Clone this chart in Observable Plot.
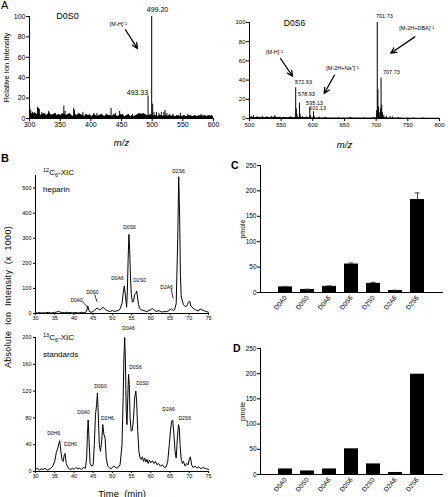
<!DOCTYPE html>
<html><head><meta charset="utf-8">
<script src="https://cdn.jsdelivr.net/npm/d3@7"></script>
<script src="https://cdn.jsdelivr.net/npm/@observablehq/plot@0.6"></script>
<style>
body{margin:0;background:#fff;}
#fig{position:relative;width:448px;height:497px;font-family:Arial,"Liberation Sans",Helvetica,sans-serif;color:#000;overflow:hidden;background:#fff;}
.pane{position:absolute;}
.pane svg{overflow:visible;display:block;}
.lbl{position:absolute;white-space:nowrap;line-height:1;}
.sup{position:relative;top:-3px;font-size:5.5px;}
.sub{position:relative;top:2px;font-size:5.5px;}
.pa g[aria-label="x-axis label"] text{font-size:9.5px;font-style:italic;}
.pa g[aria-label="y-axis label"] text{font-size:7.5px;}
.pb g[aria-label="x-axis label"] text{font-size:9.5px;}
.pc g[aria-label="y-axis label"] text{font-size:7px;}
</style></head><body><div id="fig"></div>
<script>
// ---------- Panel A data ----------
const mzTicksL = [300,350,400,450,500,550,600];
const mzTicksR = [500,550,600,650,700,750,800];
const relTicks = [0,20,40,60,80,100];
// baseline noise, D0S0 spectrum, one value every 3 m/z from 300
const baseL = [7,5,4,6,4,5,3,4,5,3, 4,6,3,4,5,3,4,3,5,4, 3,4,5,3,2,4,3,5,4,3, 2,4,3,3,2,4,3,2,3,4, 3,2,4,3,3,2,4,3,2,3, 4,3,2,3,4,2,3,2,3,4, 5,4,5,4,3,3,4,2,3,3, 2,3,3,2,3,2,3,2,3,2, 2,3,2,2,3,2,2,3,2,2, 3,2,2,3,2,3,2,2,3,2, 2];
const stickMzL  = [300.5,302,305,309,313,314.5,316,320,325,331,337,342,348,356,358,365,372,373.5,380,387,392,398,405,410,418,425,433,440,447,452,461,468,476,483,487,493.33,499.2,500.8,503,507,511,515,519,521,524,529,534,540,546,552,558,563,569,575,580,586,591,597];
const stickIntL = [10,8,6,5,11,10,9,6,5,7,4,5,4,12,7,4,10,8,4,6,4,4,5,5,4,4,10,5,7,4,4,4,4,4,3,22,100,14,6,6,5,6,6,8,5,4,4,3,5,3,4,3,3,3,4,3,3,3];
// baseline noise, D0S6 spectrum, one value every 5 m/z from 500
const baseR = [1.5,1,1,1.2,0.8,1,1.2,0.8,1.5,1, 0.8,1,0.8,1.2,0.8,1,1.2,0.8,1,0.7, 0.8,0.6,0.8,0.5,0.7,0.5,0.6,0.5,0.6,0.4, 0.5,0.4,0.8,0.5,0.4,0.6,0.4,0.5,0.4,0.5, 0.8,1,0.6,0.8,0.6,0.5,0.4,0.5,0.4,0.3, 0.4,0.3,0.4,0.3,0.3,0.4,0.3,0.3,0.3,0.3, 0.3];
const stickMzR  = [503,506,512,520,527,535,540,548,556,565,572.93,573.9,575,578.93,580,584,590,595.13,596.2,601.13,602.2,610,620,640,660,680,695,700.73,701.73,702.73,703.73,705.7,706.73,707.73,708.73,710,712,716,722,726,735];
const stickIntR = [2,3,1.5,2,1.5,2,3,1.5,1,1.5,32,10,4,16,4,2,1.5,11,3,7,2,1.5,1,0.8,0.8,0.8,1,8,100,30,12,6,10,42,14,6,3,2,2,1.5,1];
const peakTextL = ["499.20","493.33"];
const peakTextMzL = [508.7,476];
const peakTextVL = [107,25.5];
const peakTextR = ["572.93","578.93","595.13","601.13","701.73","707.73"];
const peakTextMzR = [585.3,590,602.6,607.4,713,724];
const peakTextVR = [37.5,25,15.6,10.4,107,48];
const ionTextL = ["[M-H]⁻¹"], ionMzL = [445], ionVL = [92];
const ionArrowL = [[456.5,87,476,68.6]];
const ionTextR = ["[M-H]⁻¹","[M-2H+Na⁺]⁻¹","[M-2H+DBA]⁻¹"];
const ionMzR = [539.5,647,764], ionVR = [69,52,94];
const ionArrowR = [[549,62.5,568,44],[634,45,618,26],[761,85,723,68]];

// ---------- Panel B data ----------
const timeTicks = [30,35,40,45,50,55,60,65,70,75];
const ticks12 = [0,100,200,300,400,500];
const ticks13 = [0,40,80,120,160,200];
const xic12 = [[30,3],[30.5,2],[31,4],[31.5,2],[32,3],[32.5,2],[33,4],[33.5,3],[34,2],[34.5,3],[35,4],[35.5,6],[36,8],[36.5,5],[37,4],[37.5,3],[38,5],[38.5,3],[39,4],[39.5,2],[40,3],[40.5,4],[41,2],[41.5,3],[42,5],[42.5,3],[43,4],[43.3,10],[43.6,30],[43.9,12],[44.2,6],[44.6,5],[45,8],[45.5,15],[46,22],[46.4,18],[46.8,14],[47.2,20],[47.6,25],[48,18],[48.5,12],[49,10],[49.5,8],[50,12],[50.5,8],[51,10],[51.5,12],[52,18],[52.5,40],[52.8,80],[53.1,110],[53.4,70],[53.7,25],[53.9,90],[54.1,220],[54.3,315],[54.5,250],[54.7,150],[54.9,80],[55.2,45],[55.5,50],[55.8,75],[56.1,80],[56.3,90],[56.5,70],[56.8,35],[57.1,20],[57.5,15],[58,12],[58.5,10],[59,8],[59.5,12],[60,15],[60.4,20],[60.8,15],[61.2,10],[61.6,8],[62,12],[62.5,8],[63,6],[63.5,8],[64,7],[64.5,10],[65,15],[65.4,18],[65.8,12],[66.2,15],[66.6,40],[67,300],[67.25,545],[67.5,380],[67.7,150],[67.9,70],[68.2,50],[68.5,35],[68.8,30],[69.2,28],[69.5,35],[69.8,45],[70.1,50],[70.4,30],[70.8,25],[71.2,18],[71.6,15],[72,12],[72.4,10],[72.8,18],[73.2,15],[73.6,12],[74,10],[74.5,8],[75,5]];
const xic13 = [[30,3],[30.5,5],[31,2],[31.5,4],[32,3],[32.5,5],[33,2],[33.5,3],[34,5],[34.5,8],[35,15],[35.4,28],[35.8,35],[36.1,42],[36.3,46],[36.6,30],[36.9,18],[37.2,15],[37.5,25],[37.7,27],[38,12],[38.4,6],[38.8,4],[39.2,3],[39.6,5],[40,3],[40.5,6],[41,4],[41.5,5],[42,3],[42.5,6],[43,5],[43.3,20],[43.5,55],[43.7,77],[43.9,50],[44.2,12],[44.6,8],[45,10],[45.3,40],[45.6,85],[45.9,100],[46.1,117],[46.3,90],[46.6,40],[46.9,30],[47.2,45],[47.5,70],[47.8,55],[48.1,50],[48.4,20],[48.8,8],[49.2,6],[49.6,4],[50,6],[50.5,8],[51,5],[51.5,6],[52,10],[52.5,40],[52.8,110],[53,170],[53.2,200],[53.4,160],[53.6,90],[53.8,70],[54,110],[54.2,145],[54.4,130],[54.6,80],[54.9,60],[55.2,62],[55.5,80],[55.8,110],[56.1,120],[56.3,105],[56.6,60],[56.9,30],[57.2,20],[57.5,18],[57.8,22],[58.1,15],[58.4,20],[58.7,14],[59,18],[59.3,12],[59.6,17],[60,13],[60.4,16],[60.8,12],[61.2,15],[61.6,10],[62,12],[62.5,8],[63,10],[63.5,6],[64,7],[64.4,15],[64.8,40],[65.1,60],[65.4,75],[65.7,77],[66,55],[66.3,30],[66.6,20],[66.9,50],[67.2,70],[67.4,65],[67.6,40],[67.9,18],[68.2,12],[68.5,15],[68.9,8],[69.3,12],[69.7,10],[70,18],[70.3,22],[70.6,10],[71,6],[71.5,8],[72,5],[72.5,7],[73,4],[73.5,6],[74,5],[74.5,4],[75,3]];
const names12 = ["D2S6","D0S6","D0A6","D2S0","D2A6","D0S0","D0A0"];
const labT12 = [67.2,54.45,51.3,57.05,64.1,44.8,40.7];
const labV12 = [565,343,141,130,103,84,53];
const leaders12 = [[42.2,47,43.5,26],[45.4,75,46.0,47],[65.3,97,65.8,60]];
const names13 = ["D0H6","D2H0","D0A0","D0S0","D2H6","D0A6","D0S6","D2S0","D2A6","D2S6"];
const labT13 = [34.7,39.1,42.5,46.9,48.7,54.2,56.0,57.8,64.6,68.8];
const labV13 = [56.7,40,88,127,79,213,155,131,92.5,79];

// ---------- Panels C, D data ----------
const cats = ["D0A0","D0S0","D0A6","D0S6","D2S0","D2A6","D2S6"];
const pmolC = [11,6,12,56,18,4,183];
const errC  = [1,0.5,1,2,2,0.5,13];
const pmolD = [11,7,11,51,21,4,199];
const pmolTicks = [0,50,100,150,200,250];

// ---------- helpers ----------
const FONT = "Arial, 'Liberation Sans', Helvetica, sans-serif";
const fig = document.getElementById("fig");
const st = (fs) => ({fontFamily: FONT, fontSize: fs + "px", background: "transparent", overflow: "visible", color: "#000"});
function place(node, left, top, cls) {
  const d = document.createElement("div");
  d.className = "pane " + (cls || "");
  d.style.left = left + "px"; d.style.top = top + "px";
  d.appendChild(node); fig.appendChild(d);
}
function html(text, left, top, css) {
  const d = document.createElement("div");
  d.className = "lbl"; d.innerHTML = text;
  d.style.left = left + "px"; d.style.top = top + "px";
  if (css) d.style.cssText += css;
  fig.appendChild(d);
}
const arrows = (a) => a.map(([x1,y1,x2,y2]) => ({x1,y1,x2,y2}));

// ---------- Panel A left ----------
const baseDataL = baseL.map((v,i) => ({mz: 300 + i*3, v}));
const sticksL = stickMzL.map((mz,i) => ({mz, v: stickIntL[i]}));
place(Plot.plot({
  width: 224, height: 150, marginLeft: 29, marginRight: 11, marginTop: 16, marginBottom: 32,
  style: st(7),
  x: {domain: [300,600]}, y: {domain: [0,100]},
  marks: [
    Plot.areaY(baseDataL, {x: "mz", y: "v", fill: "#000"}),
    Plot.ruleX(sticksL, {x: "mz", y1: 0, y2: "v", stroke: "#000", strokeWidth: 1}),
    Plot.ruleX([300], {y1: 0, y2: 100, stroke: "#000"}),
    Plot.ruleY([0], {stroke: "#000"}),
    Plot.axisX({ticks: mzTicksL, tickSize: 3, tickPadding: 1, label: "m/z", labelAnchor: "center", labelOffset: 27, labelArrow: "none"}),
    Plot.axisY({ticks: relTicks, tickSize: 3, tickPadding: 1, label: "Relative Ion Intensity", labelAnchor: "center", labelOffset: 26, labelArrow: "none"}),
    Plot.text(["D0S0"], {x: 362, y: 100, text: d => d, fontSize: 9}),
    Plot.text(peakTextL, {x: (d,i) => peakTextMzL[i], y: (d,i) => peakTextVL[i], text: d => d, fontSize: 7}),
    Plot.text(ionTextL, {x: (d,i) => ionMzL[i], y: (d,i) => ionVL[i], text: d => d, fontSize: 5.5}),
    Plot.arrow(arrows(ionArrowL), {x1: "x1", y1: "y1", x2: "x2", y2: "y2", stroke: "#000", strokeWidth: 1.3, headLength: 7, headAngle: 50})
  ]
}), 0, 0, "pa");

// ---------- Panel A right ----------
const baseDataR = baseR.map((v,i) => ({mz: 500 + i*5, v}));
const sticksR = stickMzR.map((mz,i) => ({mz, v: stickIntR[i]}));
place(Plot.plot({
  width: 224, height: 150, marginLeft: 25, marginRight: 9, marginTop: 22, marginBottom: 32,
  style: st(6),
  x: {domain: [500,800]}, y: {domain: [0,100]},
  marks: [
    Plot.areaY(baseDataR, {x: "mz", y: "v", fill: "#000"}),
    Plot.ruleX(sticksR, {x: "mz", y1: 0, y2: "v", stroke: "#000", strokeWidth: 1}),
    Plot.ruleX([500], {y1: 0, y2: 100, stroke: "#000"}),
    Plot.ruleY([0], {stroke: "#000"}),
    Plot.axisX({ticks: mzTicksR, tickSize: 3, tickPadding: 1, label: "m/z", labelAnchor: "center", labelOffset: 29, labelArrow: "none"}),
    Plot.axisY({ticks: relTicks, tickSize: 3, tickPadding: 1, label: null}),
    Plot.text(["D0S6"], {x: 571, y: 99, text: d => d, fontSize: 8.5}),
    Plot.text(peakTextR, {x: (d,i) => peakTextMzR[i], y: (d,i) => peakTextVR[i], text: d => d, fontSize: 5.5}),
    Plot.text(ionTextR, {x: (d,i) => ionMzR[i], y: (d,i) => ionVR[i], text: d => d, fontSize: 5.5}),
    Plot.arrow(arrows(ionArrowR), {x1: "x1", y1: "y1", x2: "x2", y2: "y2", stroke: "#000", strokeWidth: 1.3, headLength: 7, headAngle: 50})
  ]
}), 224, 0, "pa");

// ---------- Panel B top (12C6-XIC heparin) ----------
const d12 = xic12.map(([t,v]) => ({t, v}));
const l12 = names12.map((n,i) => ({n, t: labT12[i], v: labV12[i]}));
place(Plot.plot({
  width: 224, height: 174, marginLeft: 35, marginRight: 16, marginTop: 15, marginBottom: 21,
  style: st(5.5),
  x: {domain: [30,75]}, y: {domain: [0,550]},
  marks: [
    Plot.ruleX([30], {y1: 0, y2: 550, stroke: "#000"}),
    Plot.ruleY([0], {stroke: "#000"}),
    Plot.line(d12, {x: "t", y: "v", stroke: "#000", strokeWidth: 1}),
    Plot.axisX({ticks: timeTicks, tickSize: 2, tickPadding: 1, label: null}),
    Plot.axisY({ticks: ticks12, tickSize: 2, tickPadding: 2, label: null}),
    Plot.text(l12, {x: "t", y: "v", text: "n", fontSize: 5}),
    Plot.link(arrows(leaders12), {x1: "x1", y1: "y1", x2: "x2", y2: "y2", stroke: "#000", strokeWidth: 0.8})
  ]
}), 0, 160, "pb");

// ---------- Panel B bottom (13C6-XIC standards) ----------
const d13 = xic13.map(([t,v]) => ({t, v}));
const l13 = names13.map((n,i) => ({n, t: labT13[i], v: labV13[i]}));
place(Plot.plot({
  width: 224, height: 167, marginLeft: 35, marginRight: 16, marginTop: 7, marginBottom: 26,
  style: st(5.5),
  x: {domain: [30,75]}, y: {domain: [0,200]},
  marks: [
    Plot.ruleX([30], {y1: 0, y2: 200, stroke: "#000"}),
    Plot.ruleY([0], {stroke: "#000"}),
    Plot.line(d13, {x: "t", y: "v", stroke: "#000", strokeWidth: 1}),
    Plot.axisX({ticks: timeTicks, tickSize: 2, tickPadding: 1, label: "Time  (min)", labelAnchor: "center", labelOffset: 25, labelArrow: "none"}),
    Plot.axisY({ticks: ticks13, tickSize: 2, tickPadding: 2, label: null}),
    Plot.text(l13, {x: "t", y: "v", text: "n", fontSize: 5})
  ]
}), 0, 330, "pb");

// ---------- Panels C and D ----------
function barPanel(vals, errs, height, mt, mb) {
  const data = cats.map((c,i) => ({c, v: vals[i], e: errs ? errs[i] : 0}));
  const marks = [
    Plot.barY(data, {x: "c", y: "v", fill: "#000"}),
    Plot.frame({anchor: "left", stroke: "#000"}),
    Plot.frame({anchor: "bottom", stroke: "#000"}),
    Plot.axisX({tickRotate: -50, tickSize: 0, tickPadding: 4, label: null, fontSize: 6.5}),
    Plot.axisY({ticks: pmolTicks, tickSize: 3, tickPadding: 1, label: "pmole", labelAnchor: "center", labelOffset: 20, labelArrow: "none"})
  ];
  if (errs) {
    marks.push(Plot.ruleX(data, {x: "c", y1: "v", y2: d => d.v + d.e, stroke: "#444"}));
    marks.push(Plot.tickY(data, {x: "c", y: d => d.v + d.e, stroke: "#444", insetLeft: 4.5, insetRight: 4.5}));
  }
  return Plot.plot({
    width: 233, height, marginLeft: 45, marginRight: 6, marginTop: mt, marginBottom: mb,
    style: st(6.5),
    x: {type: "band", domain: cats, paddingInner: 0.38, paddingOuter: 0.7},
    y: {domain: [0,250]},
    marks
  });
}
place(barPanel(pmolC, errC, 170, 15, 28), 215, 150, "pc");
place(barPanel(pmolD, null, 167, 18, 23), 215, 330, "pc");

// ---------- panel letters and titles ----------
html("A", 1, 0, "font-size:11px;");
html("B", 1, 153, "font-size:11px;font-weight:bold;");
html("C", 231, 160, "font-size:10.5px;font-weight:bold;");
html("D", 233, 343, "font-size:10.5px;font-weight:bold;");
html('<span class="sup">12</span>C<span class="sub">6</span>-XIC', 43, 169, "font-size:8px;");
html("heparin", 43, 186, "font-size:8px;");
html('<span class="sup">13</span>C<span class="sub">6</span>-XIC', 43, 334, "font-size:8px;");
html("standards", 43, 351, "font-size:8px;");
html("Absolute&nbsp; Ion&nbsp; Intensity&nbsp; (x&nbsp; 1000)", 8, 297,
     "font-size:9px;letter-spacing:0.3px;transform:translate(-50%,-50%) rotate(-90deg);");
</script></body></html>
